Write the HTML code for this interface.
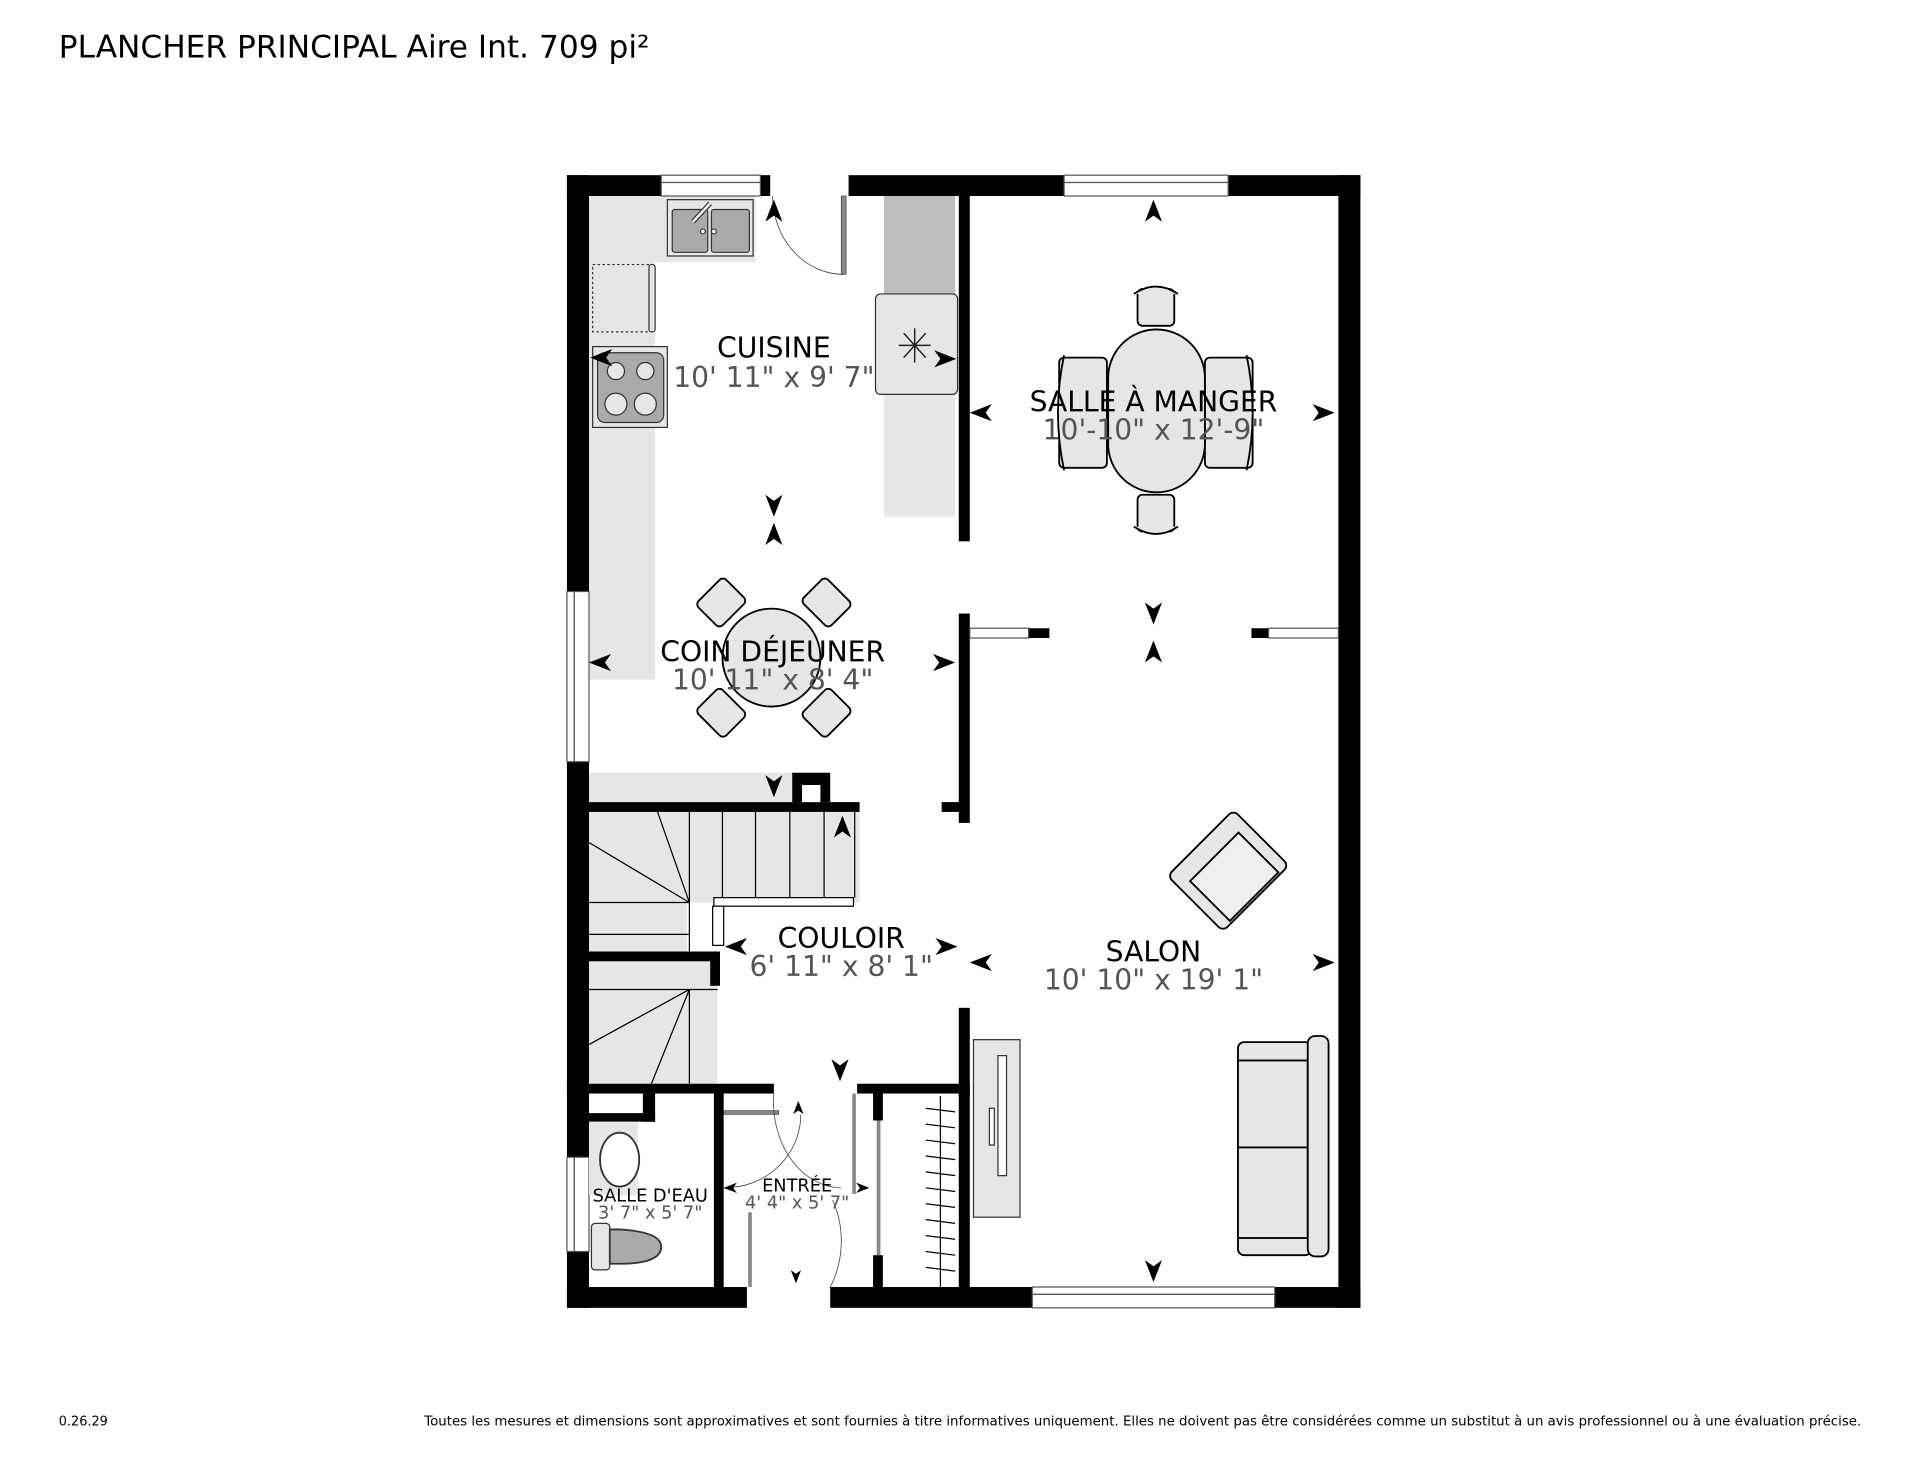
<!DOCTYPE html>
<html><head><meta charset="utf-8"><style>
html,body{margin:0;padding:0;background:#fff;}
svg{display:block;}
text{font-family:"DejaVu Sans","Liberation Sans",sans-serif;}
</style></head><body>
<svg width="1920" height="1483" viewBox="0 0 1568 1211" xmlns="http://www.w3.org/2000/svg">
<defs>
<path id="au" d="M0,-10 L7,8 L0,3 L-7,8 Z" fill="#000"/>
</defs>
<rect width="1568" height="1211" fill="#fff"/>
<text x="48" y="47" font-size="25.5" fill="#000">PLANCHER PRINCIPAL Aire Int. 709 pi²</text>
<text x="48" y="1164" font-size="10.5" fill="#000">0.26.29</text>
<text x="1520" y="1164" font-size="10.9" fill="#000" text-anchor="end">Toutes les mesures et dimensions sont approximatives et sont fournies à titre informatives uniquement. Elles ne doivent pas être considérées comme un substitut à un avis professionnel ou à une évaluation précise.</text>

<!-- kitchen counters -->
<rect x="481" y="160" width="54" height="395" fill="#e6e6e6"/>
<rect x="535" y="160" width="82" height="54" fill="#e6e6e6"/>
<rect x="722" y="160" width="58" height="262" fill="#e6e6e6"/>
<rect x="722" y="160" width="58" height="133" fill="#bdbdbd"/>
<rect x="481" y="631" width="166" height="24" fill="#e6e6e6"/>
<!-- sink -->
<rect x="545" y="163" width="70" height="46" fill="#e6e6e6" stroke="#333" stroke-width="1"/>
<rect x="549" y="171" width="29" height="35" rx="2" fill="#aaa" stroke="#333"/>
<rect x="581" y="171" width="31" height="35" rx="2" fill="#aaa" stroke="#333"/>
<line x1="566" y1="181" x2="580" y2="166" stroke="#333" stroke-width="4"/>
<line x1="566" y1="181" x2="580" y2="166" stroke="#fff" stroke-width="2"/>
<circle cx="574" cy="189" r="2" fill="#fff" stroke="#333"/><circle cx="583" cy="189" r="2" fill="#fff" stroke="#333"/>
<!-- dishwasher -->
<rect x="484" y="216" width="47" height="55" fill="#e6e6e6" stroke="#333" stroke-dasharray="2,2"/>
<rect x="530" y="216" width="5" height="55" rx="2" fill="#e6e6e6" stroke="#333"/>
<!-- stove -->
<rect x="484" y="283" width="61" height="66" fill="#e6e6e6" stroke="#333"/>
<rect x="488" y="288" width="54" height="57" rx="6" fill="#aaa" stroke="#333"/>
<circle cx="503" cy="303" r="7" fill="#e6e6e6" stroke="#333"/><circle cx="527" cy="303" r="7" fill="#e6e6e6" stroke="#333"/>
<circle cx="503" cy="330" r="9" fill="#e6e6e6" stroke="#333"/><circle cx="527" cy="330" r="9" fill="#e6e6e6" stroke="#333"/>
<!-- fridge -->
<rect x="715" y="240" width="67" height="82" rx="4" fill="#e6e6e6" stroke="#333"/>
<g stroke="#222" stroke-width="1.2"><line x1="747" y1="268" x2="747" y2="296"/><line x1="734" y1="282" x2="760" y2="282"/><line x1="738" y1="272" x2="756" y2="292"/><line x1="738" y1="292" x2="756" y2="272"/></g>
<!-- kitchen door -->
<rect x="687" y="160" width="4" height="64" fill="#888" stroke="#333" stroke-width=".5"/>
<path d="M631,160 A58,64 0 0 0 689,224" fill="none" stroke="#333" stroke-width=".6"/>

<!-- dining table -->
<g fill="#e6e6e6" stroke="#000" stroke-width="1.5">
<rect x="929" y="236" width="30" height="30" rx="4"/>
<path d="M926,240 Q944,228 962,240" />
<rect x="929" y="404" width="30" height="30" rx="4"/>
<path d="M926,430 Q944,442 962,430"/>
<rect x="865" y="292" width="39" height="90" rx="4"/>
<path d="M869,290 Q859,337 869,384"/>
<rect x="984" y="292" width="39" height="90" rx="4"/>
<path d="M1018,290 Q1028,337 1018,384"/>
<rect x="905" y="269" width="79" height="133" rx="39.5"/>
</g>
<!-- breakfast table -->
<g fill="#e6e6e6" stroke="#000" stroke-width="1.5">
<circle cx="630" cy="537" r="40"/>
<g transform="translate(589,492) rotate(-45)"><rect x="-16" y="-14" width="32" height="28" rx="4"/></g>
<g transform="translate(675,492) rotate(45)"><rect x="-16" y="-14" width="32" height="28" rx="4"/></g>
<g transform="translate(589,582) rotate(45)"><rect x="-16" y="-14" width="32" height="28" rx="4"/></g>
<g transform="translate(675,582) rotate(-45)"><rect x="-16" y="-14" width="32" height="28" rx="4"/></g>
</g>
<!-- armchair -->
<g transform="translate(1003,711) rotate(-45)" fill="#e6e6e6" stroke="#000" stroke-width="1.5">
<rect x="-38" y="-32" width="76" height="64" rx="5"/>
<rect x="-28" y="-16" width="56" height="46" fill="#efefef"/>
</g>
<!-- sofa -->
<g fill="#e6e6e6" stroke="#000" stroke-width="1.5">
<rect x="1011" y="851" width="60" height="174" rx="5"/>
<rect x="1011" y="866" width="57" height="71"/>
<rect x="1011" y="937" width="57" height="74"/>
<rect x="1068" y="846" width="17" height="180" rx="6"/>
</g>
<!-- TV unit -->
<rect x="795" y="849" width="38" height="145" fill="#e6e6e6" stroke="#333"/>
<path d="M815,862 L822,862 L822,960 L815,960 Z M808,905 L812,905 L812,935 L808,935 Z" fill="#fff" stroke="#333"/>

<!-- stairs -->
<rect x="481" y="663" width="221" height="74" fill="#e6e6e6"/>
<rect x="481" y="737" width="80" height="40" fill="#e6e6e6"/>
<rect x="481" y="785" width="105" height="100" fill="#e6e6e6"/>
<g stroke="#000" stroke-width="1">
<line x1="563" y1="663" x2="563" y2="777"/>
<line x1="590" y1="663" x2="590" y2="733"/><line x1="617" y1="663" x2="617" y2="733"/><line x1="645" y1="663" x2="645" y2="733"/><line x1="673" y1="663" x2="673" y2="733"/>
<line x1="698" y1="663" x2="698" y2="733"/>
<line x1="481" y1="737" x2="563" y2="737"/><line x1="481" y1="763" x2="563" y2="763"/>
<line x1="563" y1="737" x2="537" y2="663"/><line x1="563" y1="737" x2="481" y2="688"/>
<line x1="481" y1="808" x2="586" y2="808"/><line x1="563" y1="808" x2="563" y2="885"/>
<line x1="563" y1="808" x2="481" y2="853"/><line x1="563" y1="808" x2="532" y2="885"/>
</g>
<rect x="583" y="733" width="114" height="7" fill="#fff" stroke="#000"/>
<rect x="582" y="740" width="9" height="32" fill="#fff" stroke="#000"/>

<!-- walls -->
<g fill="#000">
<rect x="463" y="143" width="77" height="17"/>
<rect x="621" y="143" width="8" height="17"/>
<rect x="693" y="143" width="176" height="17"/>
<rect x="1003" y="143" width="108" height="17"/>
<rect x="463" y="143" width="18" height="340"/>
<rect x="463" y="622" width="18" height="323"/>
<rect x="463" y="1022" width="18" height="46"/>
<rect x="1093" y="143" width="18" height="925"/>
<rect x="463" y="1051" width="147" height="17"/>
<rect x="678" y="1051" width="165" height="17"/>
<rect x="1041" y="1051" width="70" height="17"/>
<rect x="783" y="160" width="9" height="282"/>
<rect x="783" y="501" width="9" height="171"/>
<rect x="769" y="655" width="16" height="8"/>
<rect x="783" y="823" width="9" height="228"/>
<rect x="840" y="513" width="17" height="8"/>
<rect x="1022" y="513" width="14" height="8"/>
<rect x="481" y="655" width="221" height="8"/>
<rect x="647" y="631" width="31" height="24"/>
<rect x="481" y="777" width="107" height="8"/>
<rect x="580" y="777" width="8" height="28"/>
<rect x="463" y="885" width="169" height="8"/>
<rect x="700" y="885" width="83" height="8"/>
<rect x="525" y="893" width="10" height="23"/>
<rect x="481" y="909" width="54" height="7"/>
<rect x="583" y="893" width="8" height="158"/>
<rect x="713" y="893" width="8" height="22"/>
<rect x="713" y="1025" width="8" height="26"/>
<rect x="783" y="885" width="9" height="10"/>
</g>
<rect x="655" y="641" width="15" height="14" fill="#fff"/>
<rect x="484" y="900" width="38" height="7" fill="#fff"/>
<!-- windows -->
<g fill="#fff" stroke="#555" stroke-width="1">
<rect x="540" y="143" width="81" height="6"/><rect x="540" y="149" width="81" height="11" fill="#fff"/>
<rect x="869" y="143" width="134" height="6"/><rect x="869" y="149" width="134" height="11"/>
<rect x="463" y="483" width="6" height="139"/><rect x="469" y="483" width="12" height="139"/>
<rect x="463" y="945" width="6" height="77"/><rect x="469" y="945" width="12" height="77"/>
<rect x="843" y="1051" width="198" height="6"/><rect x="843" y="1057" width="198" height="11"/>
<rect x="792" y="513" width="48" height="8"/>
<rect x="1036" y="513" width="57" height="8"/>
</g>
<!-- salle d'eau fixtures -->
<rect x="481" y="916" width="40" height="60" fill="#e6e6e6"/>
<ellipse cx="506" cy="947" rx="16" ry="22" fill="#fff" stroke="#333" stroke-width="1.5"/>
<rect x="483" y="999" width="15" height="38" rx="3" fill="#e6e6e6" stroke="#333"/>
<path d="M498,1004 L506,1004 Q540,1006 540,1018 Q540,1032 506,1032 L498,1032 Z" fill="#aaa" stroke="#333" stroke-width="1.5"/>
<!-- entree doors -->
<rect x="591" y="907" width="45" height="3" fill="#888" stroke="#333" stroke-width=".5"/>
<path d="M632,893 A56,70 0 0 0 687,970" fill="none" stroke="#333" stroke-width=".6"/>
<path d="M654,910 A62,60 0 0 1 591,970" fill="none" stroke="#333" stroke-width=".6"/>
<rect x="696" y="893" width="3" height="82" fill="#888"/>
<rect x="716" y="915" width="3" height="110" fill="#888"/>
<rect x="611" y="990" width="3" height="61" fill="#888"/>
<path d="M680,980 A58,70 0 0 1 678,1051" fill="none" stroke="#333" stroke-width=".6"/>
<!-- closet -->
<line x1="768" y1="895" x2="768" y2="1051" stroke="#000"/>
<g stroke="#000" stroke-width="1">
<line x1="756" y1="905" x2="780" y2="908"/><line x1="756" y1="918" x2="780" y2="921"/><line x1="756" y1="931" x2="780" y2="934"/>
<line x1="756" y1="944" x2="780" y2="947"/><line x1="756" y1="957" x2="780" y2="960"/><line x1="756" y1="970" x2="780" y2="973"/>
<line x1="756" y1="983" x2="780" y2="986"/><line x1="756" y1="996" x2="780" y2="999"/><line x1="756" y1="1009" x2="780" y2="1012"/>
<line x1="756" y1="1022" x2="780" y2="1025"/><line x1="756" y1="1035" x2="780" y2="1038"/>
</g>

<!-- arrows -->
<use href="#au" transform="translate(632,173)"/>
<use href="#au" transform="translate(942,173)"/>
<use href="#au" transform="translate(632,412) rotate(180)"/>
<use href="#au" transform="translate(632,437)"/>
<use href="#au" transform="translate(491,541) rotate(-90)"/>
<use href="#au" transform="translate(770,541) rotate(90)"/>
<use href="#au" transform="translate(632,641) rotate(180)"/>
<use href="#au" transform="translate(688,676)"/>
<use href="#au" transform="translate(602,773) rotate(-90)"/>
<use href="#au" transform="translate(772,773) rotate(90)"/>
<use href="#au" transform="translate(802,786) rotate(-90)"/>
<use href="#au" transform="translate(1080,786) rotate(90)"/>
<use href="#au" transform="translate(802,337) rotate(-90)"/>
<use href="#au" transform="translate(1080,337) rotate(90)"/>
<use href="#au" transform="translate(942,500) rotate(180)"/>
<use href="#au" transform="translate(942,533)"/>
<use href="#au" transform="translate(686,873) rotate(180)"/>
<use href="#au" transform="translate(652,905) scale(.6)"/>
<use href="#au" transform="translate(597,970) rotate(-90) scale(.6)"/>
<use href="#au" transform="translate(704,970) rotate(90) scale(.6)"/>
<use href="#au" transform="translate(650,1042) rotate(180) scale(.6)"/>
<use href="#au" transform="translate(942,1037) rotate(180)"/>
<use href="#au" transform="translate(492,292) rotate(-90)"/>
<use href="#au" transform="translate(771,293) rotate(90)"/>

<!-- labels -->
<g text-anchor="middle" font-size="23">
<text x="632" y="292" fill="#000">CUISINE</text>
<text x="632" y="316" fill="#555">10' 11" x 9' 7"</text>
<text x="942" y="336" fill="#000">SALLE À MANGER</text>
<text x="942" y="359" fill="#555">10'-10" x 12'-9"</text>
<text x="631" y="540" fill="#000">COIN DÉJEUNER</text>
<text x="631" y="563" fill="#555">10' 11" x 8' 4"</text>
<text x="687" y="774" fill="#000">COULOIR</text>
<text x="687" y="797" fill="#555">6' 11" x 8' 1"</text>
<text x="942" y="785" fill="#000">SALON</text>
<text x="942" y="808" fill="#555">10' 10" x 19' 1"</text>
</g>
<g text-anchor="middle" font-size="14.5">
<text x="531" y="981" fill="#000">SALLE D'EAU</text>
<text x="531" y="995" fill="#555">3' 7" x 5' 7"</text>
<text x="651" y="973" fill="#000">ENTRÉE</text>
<text x="651" y="987" fill="#555">4' 4" x 5' 7"</text>
</g>
</svg>
</body></html>
